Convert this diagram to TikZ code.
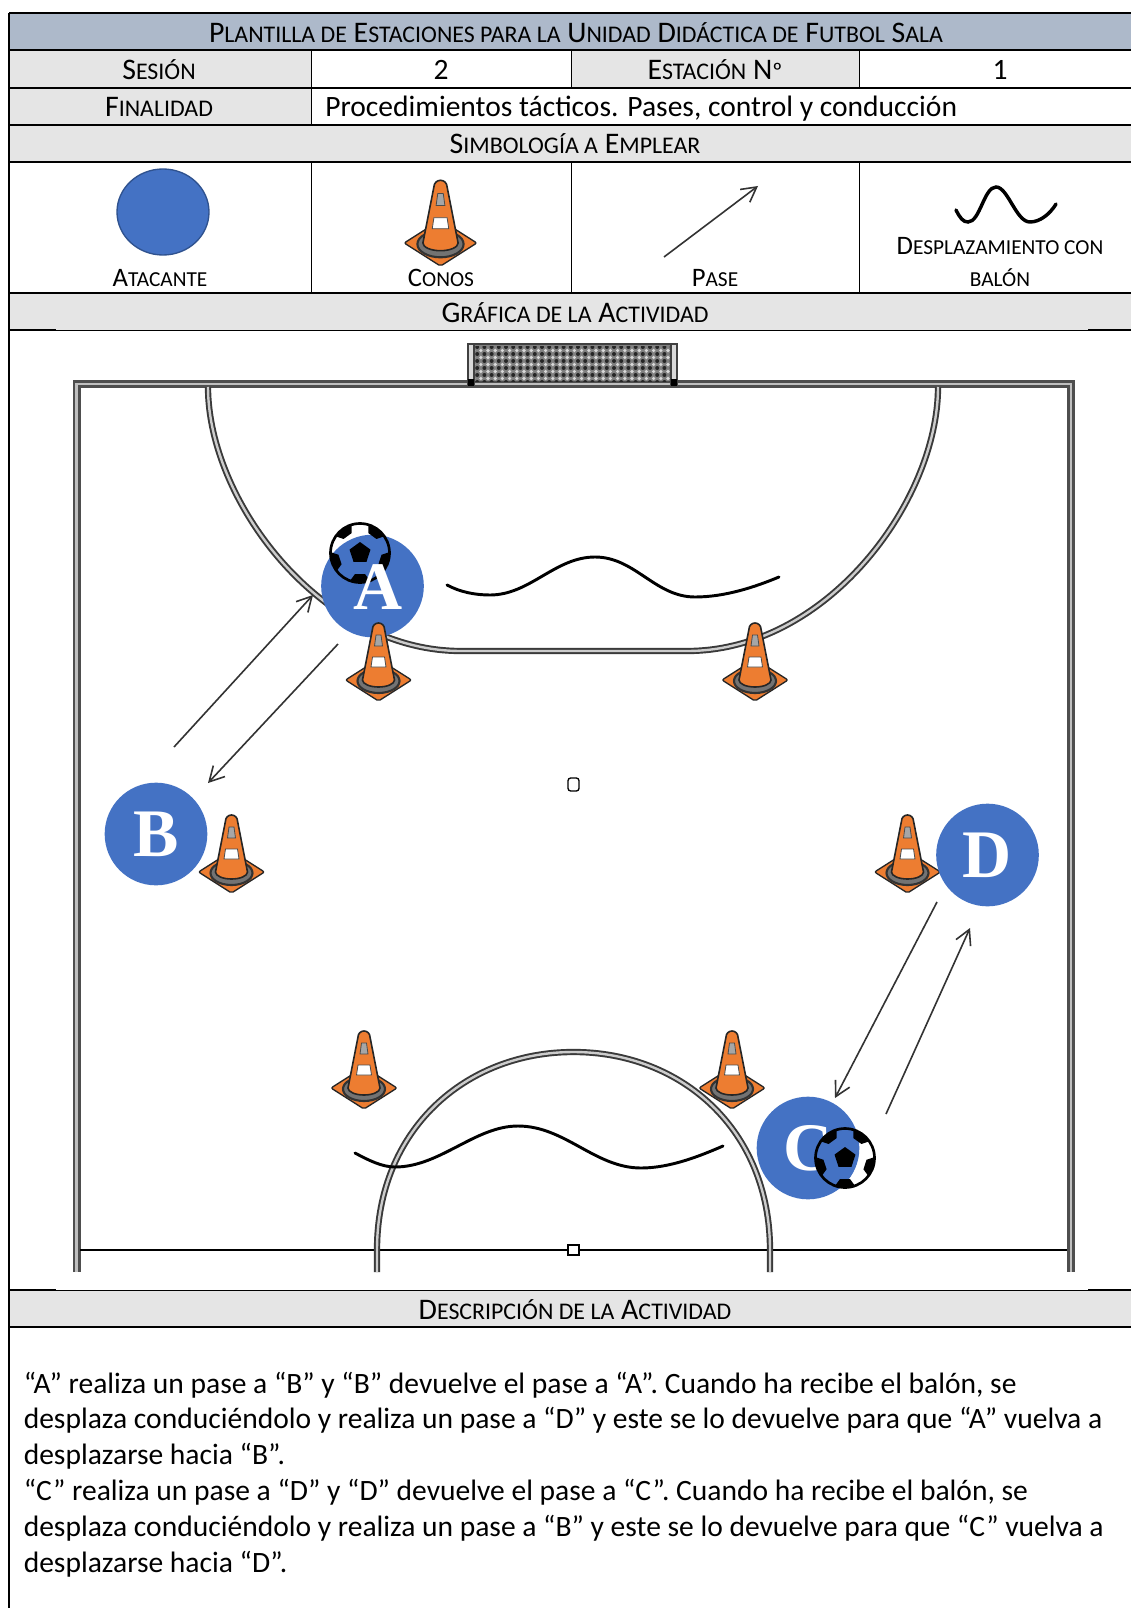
\documentclass[tikz,border=0pt]{standalone}
\usepackage{fontspec}
\setmainfont{Carlito}
\newfontfamily\letterfont{Liberation Serif}[BoldFont=Liberation Serif Bold]
\usetikzlibrary{arrows.meta}
\definecolor{headblue}{HTML}{ADB9CA}
\definecolor{headgray}{HTML}{E5E5E5}
\definecolor{pblue}{HTML}{4472C4}
\definecolor{pedge}{HTML}{2F528F}
\definecolor{cone}{HTML}{ED7D31}
\definecolor{pitchgray}{HTML}{3A3A3A}
\newcommand\bigf{\fontsize{22.4pt}{26pt}\selectfont}
\newcommand\smc[1]{{\fontsize{17.9pt}{26pt}\selectfont\MakeUppercase{#1}}}
\newcommand\legf{\fontsize{20pt}{24pt}\selectfont}
\newcommand\lsmc[1]{{\fontsize{16pt}{24pt}\selectfont\MakeUppercase{#1}}}
\newcommand\bodyf{\fontsize{22.15pt}{26pt}\selectfont}
\tikzset{
  cellline/.style={black,line width=1.3pt},
  celltext/.style={inner sep=0pt,anchor=center,text=black},
  bodytext/.style={inner sep=0pt,anchor=west,text=black,font=\bodyf},
  player/.style={circle,fill=pblue,draw=none,minimum size=77pt,inner sep=0pt},
  letter/.style={inner sep=0pt,text=white,font=\fontsize{51pt}{51pt}\letterfont\bfseries},
  frameline/.style={draw=pitchgray!90,line width=2.2pt,double=black!25,double distance=1.6pt},
  pitchline/.style={draw=pitchgray,line width=1.45pt,double=white!80!black,double distance=1.8pt},
  wave/.style={black,line width=2.2pt,line cap=round},
  passarrow/.style={black!80,line width=1.2pt,-{Straight Barb[length=11pt,width=12pt,line width=1.2pt]}},
  conemark/.pic={
    \draw[fill=cone,draw=black!85,line width=1pt,rounded corners=1.5pt] (-33,0)--(0,-21)--(33,0)--(0,21)--cycle;
    \draw[black!80,line width=1.6pt,fill=black!55] (0,1) ellipse (21 and 12);
    \draw[fill=cone,draw=black!85,line width=1.2pt] (-16,0) -- (-6,-51) arc[start angle=180,end angle=360,x radius=6,y radius=6] -- (16,0) arc[start angle=0,end angle=180,x radius=16,y radius=7] -- cycle;
    \fill[black!35,draw=black!70,line width=0.6pt] (-2.5,-45) -- (2.5,-45) -- (4,-34) -- (-4,-34) -- cycle;
    \fill[white,draw=black!70,line width=0.6pt] (-6,-23) -- (6,-23) -- (7.5,-13) -- (-7.5,-13) -- cycle;
  },
  soccer/.pic={
    \begin{scope}
      \clip (0,0) circle (30);
      \foreach \a in {-90,-162,-234,-306,-18}{
        \fill[black,rotate=\a] (32,-13) -- (21,-5) -- (21,5) -- (32,13) -- (36,0) -- cycle;
      }
    \end{scope}
    \draw[black,line width=2pt] (0,0) circle (29.5);
    \fill[black] (-90:11) -- (-162:11) -- (-234:11) -- (-306:11) -- (-18:11) -- cycle;
  },
}
\begin{document}
\begin{tikzpicture}[x=0.75pt,y=-0.75pt]
\useasboundingbox (0,0) rectangle (1131,1608);
\fill[white] (0,0) rectangle (1131,1608);
% header bands
\fill[headblue] (9,13) rectangle (1131,50);
\fill[headgray] (9,50) rectangle (311,88);
\fill[headgray] (571,50) rectangle (859,88);
\fill[headgray] (9,88) rectangle (311,125);
\fill[headgray] (9,125) rectangle (1131,162);
\fill[headgray] (9,293) rectangle (1131,330);
\fill[headgray] (9,1290) rectangle (1131,1327);
% rules
\draw[cellline] (9,13) -- (1131,13);
\foreach \yy in {50,88,125,162,293,1327}{\draw[cellline] (9,\yy) -- (1131,\yy);}
\draw[black,line width=0.75pt] (9,330.5) -- (1131,330.5);
\draw[black,line width=0.75pt] (9,1290) -- (1131,1290);
\draw[cellline] (9,330) -- (56,330);
\draw[cellline] (1088,330) -- (1131,330);
\draw[cellline] (9,1289.5) -- (56,1289.5);
\draw[cellline] (1088,1289.5) -- (1131,1289.5);
\draw[cellline] (9,13) -- (9,1608);
\draw[black,line width=0.75pt] (311,50) -- (311,125);
\draw[black,line width=0.75pt] (311,162) -- (311,293);
\draw[black,line width=0.75pt] (571,50) -- (571,88);
\draw[black,line width=0.75pt] (859,50) -- (859,88);
\draw[black,line width=0.75pt] (571,162) -- (571,293);
\draw[black,line width=0.75pt] (859,162) -- (859,293);
% table text
\node[celltext,font=\bigf] (title) at (576,32.5) {P\smc{lantilla de} E\smc{staciones para la} U\smc{nidad} D\smc{idáctica de} F\smc{utbol} S\smc{ala}};
\node[celltext,font=\bigf] (sesion) at (159,69.5) {S\smc{esión}};
\node[celltext,font=\bodyf] (dos) at (441,70) {2};
\node[celltext,font=\bigf] (estacion) at (715,69.5) {E\smc{stación} N\smc{º}};
\node[celltext,font=\bodyf] (uno) at (1000,70) {1};
\node[celltext,font=\bigf] (finalidad) at (159,106.5) {F\smc{inalidad}};
\node[bodytext] (proc) at (325,109) {Procedimientos tácticos. Pases, control y conducción};
\node[celltext,font=\bigf] (simb) at (575,144) {S\smc{imbología a} E\smc{mplear}};
\node[celltext,font=\legf] (atac) at (160,278) {A\lsmc{tacante}};
\node[celltext,font=\legf] (conos) at (441,278) {C\lsmc{onos}};
\node[celltext,font=\legf] (pase) at (715,278) {P\lsmc{ase}};
\node[celltext,font=\legf] (desp) at (1000,246) {D\lsmc{esplazamiento con}};
\node[celltext,font=\legf] (balon) at (1000,278) {\lsmc{balón}};
\node[celltext,font=\bigf] (graf) at (575,313) {G\smc{ráfica de la} A\smc{ctividad}};
\node[celltext,font=\bigf] (descr) at (575,1310) {D\smc{escripción de la} A\smc{ctividad}};
% legend
\draw[fill=pblue,draw=pedge,line width=1pt] (163,212) ellipse (46 and 43);
\pic[scale=1.1] at (440.5,243) {conemark};
\coordinate (legA) at (664,257);
\coordinate (legB) at (758,186);
\draw[passarrow] (legA) -- (legB);
\draw[wave,line width=2.6pt] (956,210) .. controls (960,218) and (963,222) .. (968,222) .. controls (980,222) and (984,187) .. (996,187) .. controls (1008,187) and (1016,222) .. (1030,222) .. controls (1040,222) and (1050,214) .. (1056,204);
% pitch
\draw[frameline] (76.5,1272) -- (76.5,384) -- (1071,384) -- (1071,1272);
\draw[black,line width=1.1pt] (80,1250) -- (1067,1250);
\draw[pitchline] (208,387) .. controls (208,500) and (320,651) .. (461,651) -- (687,651) .. controls (828,651) and (938,500) .. (938,387);
\draw[pitchline] (377,1272) -- (377,1250) .. controls (377,1130) and (465,1052) .. (573.5,1052) .. controls (682,1052) and (770,1130) .. (770,1250) -- (770,1272);
\draw[black,line width=1pt,rounded corners=2pt] (568,778) rectangle (579,791);
\draw[black,line width=1pt,fill=white] (568,1245) rectangle (579,1255);
% goal
\fill[black!50] (471,345) rectangle (675,381);
\begin{scope}
\clip (474,346) rectangle (672,381);
\foreach \i in {0,...,28}{\foreach \j in {0,...,5}{
  \fill[black!85] ({470+\i*7.2},{347+\j*7}) circle (2);
  \fill[white!85!black] ({473.6+\i*7.2},{350.5+\j*7}) circle (1.8);
}}
\end{scope}
\draw[black!75,line width=0.9pt] (468,344) -- (677,344);
\draw[black!75,fill=black!15,line width=0.8pt] (468,344) rectangle (474,384);
\draw[black!75,fill=black!15,line width=0.8pt] (671,344) rectangle (677,384);
\fill[black] (468,379) rectangle (474,386);
\fill[black] (671,379) rectangle (677,386);
% cones
\pic at (231.5,872) {conemark};
\pic at (907.5,872) {conemark};
\pic at (364,1088) {conemark};
\pic at (732,1088) {conemark};
\pic at (755,680) {conemark};
% waves
\draw[wave] (447,585) .. controls (460,592) and (475,595) .. (490,595) .. controls (530,595) and (555,557) .. (595,557) .. controls (635,557) and (655,597) .. (695,597) .. controls (725,597) and (755,587) .. (779,577);
\draw[wave] (355,1153) .. controls (368,1160) and (382,1167) .. (395,1167) .. controls (440,1167) and (475,1126) .. (518,1126) .. controls (565,1126) and (595,1168) .. (641,1168) .. controls (670,1168) and (700,1156) .. (723,1146);
% players
\node[player] (A) at (372.5,586) {};
\pic at (360,553) {soccer};
\node[letter] (lA) at (378,587) {A};
\pic at (378.5,680) {conemark};
\node[player] (B) at (156,834) {};
\node[letter] (lB) at (156,834) {B};
\node[player] (D) at (987.5,855) {};
\node[letter] (lD) at (987.5,855) {D};
\node[player] (C) at (808,1148) {};
\node[letter] (lC) at (808,1148) {C};
\begin{scope}
\clip (808,1148) circle (51);
\fill[pblue] (845,1158) circle (30);
\end{scope}
\pic at (845,1158) {soccer};
% passes
\coordinate (p1s) at (174,747);
\coordinate (p1e) at (313,595);
\coordinate (p2s) at (338,644);
\coordinate (p2e) at (208,783);
\coordinate (p3s) at (937,902);
\coordinate (p3e) at (835,1098);
\coordinate (p4s) at (886,1114);
\coordinate (p4e) at (970,928);
\draw[passarrow] (p1s) -- (p1e);
\draw[passarrow] (p2s) -- (p2e);
\draw[passarrow] (p3s) -- (p3e);
\draw[passarrow] (p4s) -- (p4e);
% description
\node[bodytext] (l1) at (23.5,1385) {“A” realiza un pase a “B” y “B” devuelve el pase a “A”. Cuando ha recibe el balón, se};
\node[bodytext] (l2) at (23.5,1420) {desplaza conduciéndolo y realiza un pase a “D” y este se lo devuelve para que “A” vuelva a};
\node[bodytext] (l3) at (23.5,1456) {desplazarse hacia “B”.};
\node[bodytext] (l4) at (23.5,1492) {“C” realiza un pase a “D” y “D” devuelve el pase a “C”. Cuando ha recibe el balón, se};
\node[bodytext] (l5) at (23.5,1528) {desplaza conduciéndolo y realiza un pase a “B” y este se lo devuelve para que “C” vuelva a};
\node[bodytext] (l6) at (23.5,1564) {desplazarse hacia “D”.};
\end{tikzpicture}
\end{document}
